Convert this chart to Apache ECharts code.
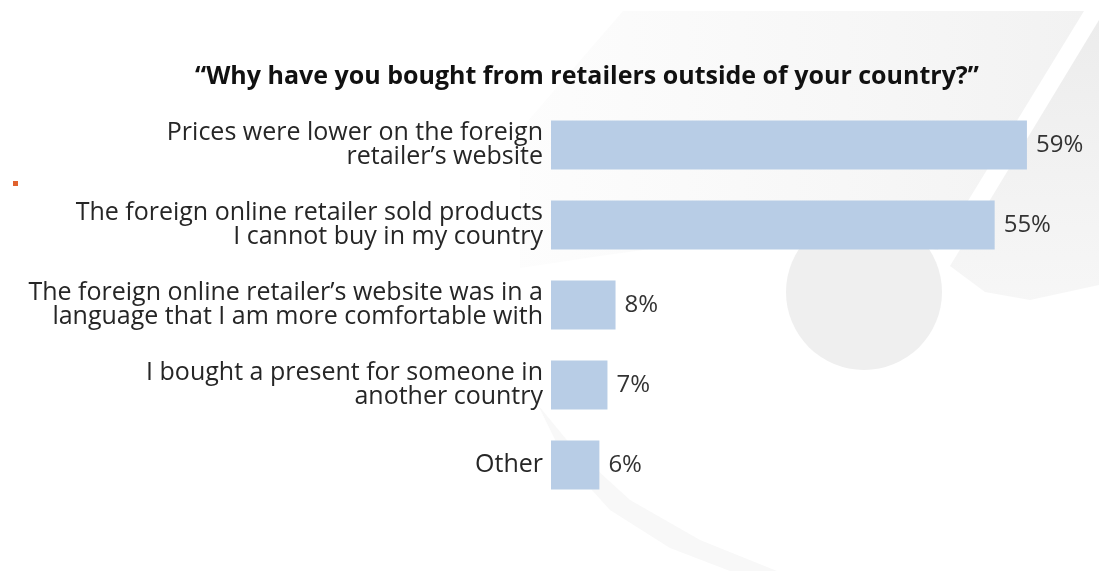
<!DOCTYPE html>
<html>
<head>
<meta charset="utf-8">
<title>Why have you bought from retailers outside of your country?</title>
<script src="https://cdn.jsdelivr.net/npm/echarts@6/dist/echarts.min.js"></script>
<style>
  html, body { margin: 0; padding: 0; background: #ffffff; }
  #chart { width: 1099px; height: 571px; }
</style>
</head>
<body>
<div id="chart"></div>
<script>
// Survey answers, top to bottom
const reasons = [
  'Prices were lower on the foreign\nretailer\u2019s website',
  'The foreign online retailer sold products\nI cannot buy in my country',
  'The foreign online retailer\u2019s website was in a\nlanguage that I am more comfortable with',
  'I bought a present for someone in\nanother country',
  'Other'
];
// Share of respondents (%)
const shares = [59, 55, 8, 7, 6];

const chart = echarts.init(document.getElementById('chart'), null, { renderer: 'canvas' });

const FONT = '"Open Sans", "Noto Sans", sans-serif';

function fade(from, to, x2, y2) {
  return new echarts.graphic.LinearGradient(0, 0, x2, y2, [
    { offset: 0, color: from },
    { offset: 1, color: to }
  ]);
}

chart.setOption({
  backgroundColor: '#ffffff',
  animation: false,
  title: {
    text: '\u201CWhy have you bought from retailers outside of your country?\u201D',
    left: 582,
    top: 59,
    textAlign: 'center',
    textStyle: {
      fontFamily: FONT,
      fontWeight: 'bold',
      fontSize: 25,
      color: '#111111'
    }
  },
  // faint watermark swoosh behind the plot
  graphic: [
    {
      type: 'circle', z: -12, silent: true,
      shape: { cx: 864, cy: 292, r: 78 },
      style: { fill: '#efefef' }
    },
    {
      type: 'polygon', z: -10, silent: true,
      shape: { points: [[623, 11], [1084, 11], [938, 250], [880, 240], [800, 236], [700, 242], [600, 256], [520, 268], [520, 130]] },
      style: { fill: fade('rgba(244,244,244,0.2)', '#f2f2f2', 1, 0) }
    },
    {
      type: 'polygon', z: -10, silent: true,
      shape: { points: [[1099, 20], [1099, 285], [1030, 300], [985, 292], [950, 266]] },
      style: { fill: fade('#ececec', 'rgba(238,238,238,0.5)', 0, 1) }
    },
    {
      type: 'polygon', z: -10, silent: true,
      shape: { points: [[538, 405], [565, 460], [610, 510], [670, 548], [730, 571], [777, 571], [700, 540], [630, 500], [575, 450]] },
      style: { fill: '#f8f8f8' }
    },
    {
      type: 'rect', silent: true,
      shape: { x: 13, y: 181, width: 5, height: 5 },
      style: { fill: '#e0622e' }
    }
  ],
  grid: {
    left: 551,
    top: 105,
    width: 484,
    height: 400
  },
  xAxis: {
    type: 'value',
    min: 0,
    max: 60,
    show: false
  },
  yAxis: {
    type: 'category',
    data: reasons,
    inverse: true,
    axisLine: { show: false },
    axisTick: { show: false },
    splitLine: { show: false },
    axisLabel: {
      margin: 8,
      align: 'right',
      fontFamily: FONT,
      fontSize: 25,
      lineHeight: 24,
      color: '#262626'
    }
  },
  series: [{
    type: 'bar',
    data: shares,
    barWidth: 49,
    itemStyle: { color: '#b8cde6' },
    label: {
      show: true,
      position: 'right',
      distance: 9,
      formatter: '{c}%',
      fontFamily: FONT,
      fontSize: 24,
      color: '#333333'
    }
  }]
});
</script>
</body>
</html>
